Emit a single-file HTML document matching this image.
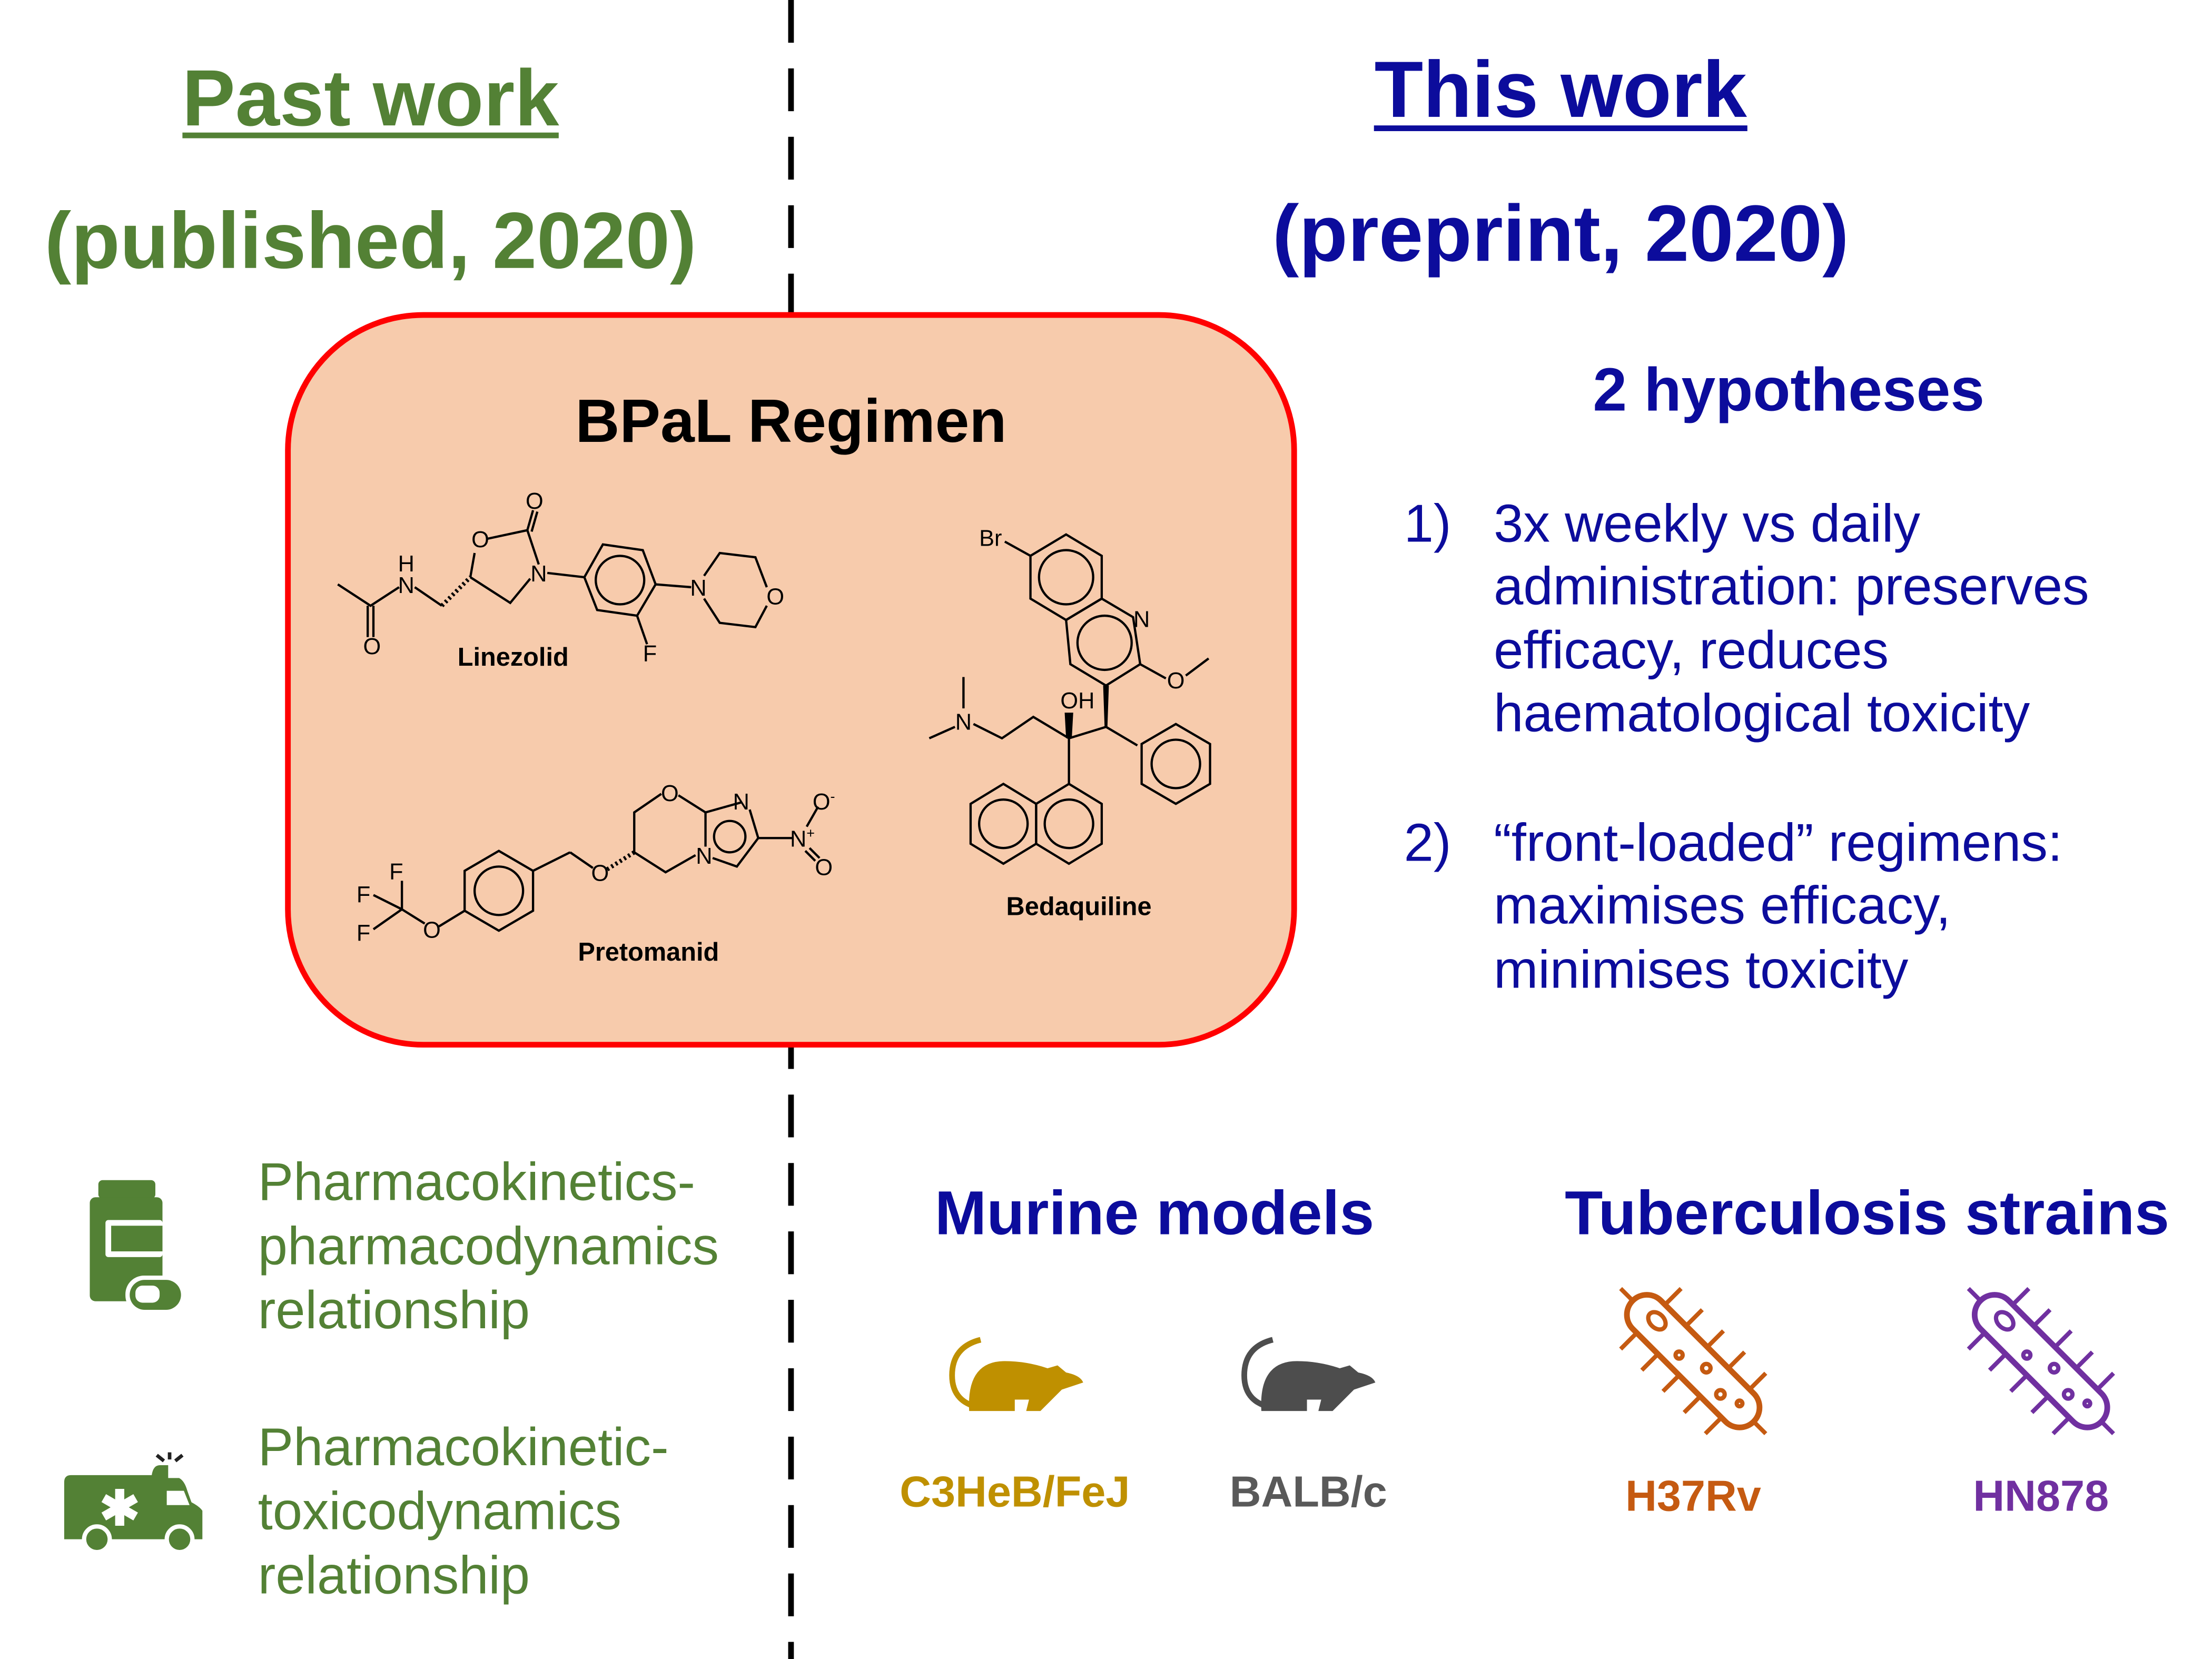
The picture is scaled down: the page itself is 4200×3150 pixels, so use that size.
<!DOCTYPE html>
<html><head><meta charset="utf-8"><style>
html,body{margin:0;padding:0;background:#fff;}
svg{display:block;}
text{font-family:"Liberation Sans",Arial,sans-serif;}
</style></head><body>
<svg width="4200" height="3150" viewBox="0 0 1552 1164" preserveAspectRatio="none" xmlns="http://www.w3.org/2000/svg">
<rect width="1552" height="1164" fill="#fff"/>
<line x1="555" y1="0" x2="555" y2="1164" stroke="#000" stroke-width="4" stroke-dasharray="30,18"/>

<g fill="#538135" font-weight="bold" font-size="56" text-anchor="middle">
<text x="260" y="88">Past work</text>
<text x="260" y="188">(published, 2020)</text>
</g>
<rect x="128" y="93" width="264" height="4" fill="#538135"/>
<g fill="#0c0c9c" font-weight="bold" font-size="56" text-anchor="middle">
<text x="1095" y="82">This work</text>
<text x="1095" y="183">(preprint, 2020)</text>
</g>
<rect x="964" y="88" width="262" height="4" fill="#0c0c9c"/>

<rect x="202" y="221" width="706" height="512" rx="95" ry="95" fill="#f7cbac" stroke="#ff0000" stroke-width="4"/>
<text x="555" y="310" font-size="43" font-weight="bold" text-anchor="middle" fill="#000">BPaL Regimen</text>

<g stroke="#000" stroke-width="1.6" fill="none">
<polyline points="237,410 260,425 280,412"/>
<line x1="258" y1="425" x2="258" y2="447"/><line x1="262" y1="425" x2="262" y2="447"/>
<polyline points="291,412 310,425"/>
<line x1="310" y1="425" x2="330" y2="405" stroke-dasharray="1.5,2" stroke-width="3"/>
<polyline points="330,405 333,388"/>
<polyline points="342,378 370,372 378,396"/>
<line x1="370" y1="372" x2="374" y2="358"/><line x1="373" y1="373" x2="377" y2="359"/>
<polyline points="372,406 358,423 330,405"/>
<line x1="384" y1="402" x2="410" y2="405"/>
<polygon points="410,405 423,382 451,386 460,410 447,432 419,428"/>
<circle cx="435" cy="407" r="17"/>
<line x1="447" y1="432" x2="454" y2="452"/>
<line x1="460" y1="410" x2="485" y2="412"/>
<polyline points="494,404 505,388 530,391 538,412"/>
<polyline points="538,425 530,440 505,437 494,420"/>
<polygon points="350,597 374,611 374,639 350,653 326,639 326,611"/>
<circle cx="350" cy="625" r="17"/>
<line x1="374" y1="611" x2="400" y2="598"/>
<line x1="400" y1="598" x2="416" y2="609"/>
<line x1="426" y1="610" x2="445" y2="598" stroke-dasharray="1.5,2" stroke-width="3"/>
<line x1="326" y1="639" x2="308" y2="650"/>
<line x1="298" y1="648" x2="282" y2="638"/>
<line x1="282" y1="638" x2="282" y2="618"/>
<line x1="282" y1="638" x2="262" y2="628"/>
<line x1="282" y1="638" x2="262" y2="652"/>
<polyline points="445,598 445,570 464,557"/>
<polyline points="476,558 495,570 520,563"/>
<polyline points="445,598 467,612 488,600"/>
<line x1="495" y1="570" x2="495" y2="594"/>
<polyline points="526,568 532,588 517,608 500,602"/>
<circle cx="512" cy="587" r="11"/>
<line x1="532" y1="588" x2="556" y2="588"/>
<line x1="566" y1="580" x2="574" y2="566"/>
<line x1="565" y1="597" x2="572" y2="604"/><line x1="568" y1="595" x2="575" y2="602"/>
<polygon points="748,375 773,390 773,420 748,435 723,420 723,390"/>
<circle cx="748" cy="405" r="19"/>
<polygon points="773,420 795,433 800,466 776,481 751,466 748,435"/>
<circle cx="775" cy="451" r="19"/>
<line x1="723" y1="390" x2="705" y2="380"/>
<line x1="800" y1="466" x2="818" y2="476"/>
<line x1="832" y1="474" x2="848" y2="462"/>
<line x1="776" y1="510" x2="750" y2="518"/>
<polyline points="750,518 725,503 703,518 683,508"/>
<line x1="676" y1="497" x2="676" y2="475"/>
<line x1="670" y1="510" x2="652" y2="518"/>
<line x1="776" y1="510" x2="798" y2="523"/>
<polygon points="825,508 849,522 849,550 825,564 801,550 801,522"/>
<circle cx="825" cy="536" r="17"/>
<line x1="750" y1="518" x2="750" y2="550"/>
<polygon points="750,550 773,564 773,592 750,606 727,592 727,564"/>
<polygon points="727,564 727,592 704,606 681,592 681,564 704,550"/>
<circle cx="750" cy="578" r="17"/>
<circle cx="704" cy="578" r="17"/>
</g>
<polygon points="774,481 778,481 777,510 775,510" fill="#000"/>
<polygon points="748,518 752,518 753,500 747,500" fill="#000"/>
<g font-size="16" fill="#000" text-anchor="middle">
<text x="261" y="459">O</text><text x="285" y="416">N</text><text x="285" y="401">H</text>
<text x="337" y="384">O</text><text x="375" y="357">O</text><text x="378" y="408">N</text>
<text x="456" y="464">F</text><text x="490" y="418">N</text><text x="544" y="424">O</text>
<text x="421" y="618">O</text><text x="470" y="562">O</text><text x="520" y="568">N</text>
<text x="494" y="606">N</text><text x="563" y="594">N<tspan font-size="10" dy="-6">+</tspan></text>
<text x="578" y="568">O<tspan font-size="10" dy="-6">-</tspan></text><text x="578" y="614">O</text>
<text x="303" y="658">O</text><text x="278" y="617">F</text><text x="255" y="633">F</text><text x="255" y="660">F</text>
<text x="695" y="383">Br</text><text x="801" y="440">N</text><text x="825" y="483">O</text>
<text x="756" y="497">OH</text><text x="676" y="512">N</text>
</g>
<g font-size="18" font-weight="bold" fill="#000" text-anchor="middle">
<text x="360" y="467">Linezolid</text>
<text x="455" y="674">Pretomanid</text>
<text x="757" y="642">Bedaquiline</text>
</g>

<text x="1255" y="288" font-size="43" font-weight="bold" fill="#0c0c9c" text-anchor="middle">2 hypotheses</text>
<g font-size="37.4" fill="#0c0c9c">
<text x="985" y="380">1)</text>
<text x="1048" y="380">3x weekly vs daily</text>
<text x="1048" y="424">administration: preserves</text>
<text x="1048" y="469">efficacy, reduces</text>
<text x="1048" y="513">haematological toxicity</text>
<text x="985" y="604">2)</text>
<text x="1048" y="604">“front-loaded” regimens:</text>
<text x="1048" y="648">maximises efficacy,</text>
<text x="1048" y="693">minimises toxicity</text>
</g>

<g font-size="37.3" fill="#538135">
<text x="181" y="842">Pharmacokinetics-</text>
<text x="181" y="887">pharmacodynamics</text>
<text x="181" y="932">relationship</text>
<text x="181" y="1028">Pharmacokinetic-</text>
<text x="181" y="1073">toxicodynamics</text>
<text x="181" y="1118">relationship</text>
</g>
<g fill="#538135">
<rect x="69" y="828" width="40" height="13" rx="3"/>
<rect x="63" y="840" width="51" height="73" rx="4"/>
<rect x="88" y="895" width="42" height="27" rx="13" fill="#fff"/>
<rect x="91" y="898" width="36" height="21" rx="10.5"/>
</g>
<rect x="74" y="856" width="40" height="26" rx="2" fill="#fff"/>
<rect x="78" y="860" width="36" height="18" fill="#538135"/>
<rect x="95" y="902" width="17" height="12" rx="5" fill="#fff"/>
<!-- ambulance -->
<g fill="#538135">
<path d="M49,1040 Q49,1035 54,1035 L113,1035 Q114,1028 119,1028 L125,1028 L125,1037 L133,1037 Q137,1039 139,1046 L142,1054 Q148,1057 150,1060 L150,1080 L49,1080 Z" transform="translate(-2,0) scale(0.96,1)"/>
<circle cx="68" cy="1080" r="9" stroke="#fff" stroke-width="3"/>
<circle cx="126" cy="1080" r="9" stroke="#fff" stroke-width="3"/>
</g>
<path d="M117,1046 L129,1046 L133,1056 L117,1056 Z" fill="#fff"/>
<text x="84" y="1070" font-size="34" font-weight="bold" fill="#fff" text-anchor="middle">✱</text>
<g stroke="#222" stroke-width="2.5"><line x1="110" y1="1021" x2="115" y2="1025"/><line x1="119" y1="1019" x2="119" y2="1024"/><line x1="128" y1="1021" x2="123" y2="1025"/></g>

<g font-size="43.7" font-weight="bold" fill="#0c0c9c" text-anchor="middle">
<text x="810" y="866">Murine models</text>
<text x="1310" y="866">Tuberculosis strains</text>
</g>
<path d="M688,940 Q668,945 668,965 Q668,985 690,988" fill="none" stroke="#bf9000" stroke-width="4"/>
<path d="M680,990 Q678,955 705,955 Q720,955 735,960 L742,958 L748,963 Q758,965 760,970 L745,975 L730,990 L720,990 L722,982 L712,982 L712,990 Z" fill="#bf9000"/>
<path d="M893,940 Q873,945 873,965 Q873,985 895,988" fill="none" stroke="#4d4d4d" stroke-width="4"/>
<path d="M885,990 Q883,955 910,955 Q925,955 940,960 L947,958 L953,963 Q963,965 965,970 L950,975 L935,990 L925,990 L927,982 L917,982 L917,990 Z" fill="#4d4d4d"/>
<g font-size="30.6" font-weight="bold" text-anchor="middle">
<text x="712" y="1057" fill="#bf9000">C3HeB/FeJ</text>
<text x="918" y="1057" fill="#595959">BALB/c</text>
<text x="1188" y="1060" fill="#c55a11">H37Rv</text>
<text x="1432" y="1060" fill="#7030a0">HN878</text>
</g>
<g transform="translate(1188,955) rotate(45)" stroke="#c55a11" fill="none" stroke-width="4">
<rect x="-60" y="-14" width="120" height="28" rx="14"/>
<g stroke-width="3">
<line x1="-42" y1="-14" x2="-42" y2="-30"/><line x1="-21" y1="-14" x2="-21" y2="-30"/><line x1="0" y1="-14" x2="0" y2="-30"/><line x1="21" y1="-14" x2="21" y2="-30"/><line x1="42" y1="-14" x2="42" y2="-30"/>
<line x1="-42" y1="14" x2="-42" y2="30"/><line x1="-21" y1="14" x2="-21" y2="30"/><line x1="0" y1="14" x2="0" y2="30"/><line x1="21" y1="14" x2="21" y2="30"/><line x1="42" y1="14" x2="42" y2="30"/>
<line x1="-60" y1="0" x2="-72" y2="0"/><line x1="60" y1="0" x2="72" y2="0"/>
<ellipse cx="-38" cy="-2" rx="7" ry="5"/><circle cx="-10" cy="4" r="2.5"/><circle cx="10" cy="-3" r="3"/><circle cx="30" cy="3" r="3"/><circle cx="44" cy="-2" r="2"/>
</g></g>
<g transform="translate(1432,955) rotate(45)" stroke="#7030a0" fill="none" stroke-width="4">
<rect x="-60" y="-14" width="120" height="28" rx="14"/>
<g stroke-width="3">
<line x1="-42" y1="-14" x2="-42" y2="-30"/><line x1="-21" y1="-14" x2="-21" y2="-30"/><line x1="0" y1="-14" x2="0" y2="-30"/><line x1="21" y1="-14" x2="21" y2="-30"/><line x1="42" y1="-14" x2="42" y2="-30"/>
<line x1="-42" y1="14" x2="-42" y2="30"/><line x1="-21" y1="14" x2="-21" y2="30"/><line x1="0" y1="14" x2="0" y2="30"/><line x1="21" y1="14" x2="21" y2="30"/><line x1="42" y1="14" x2="42" y2="30"/>
<line x1="-60" y1="0" x2="-72" y2="0"/><line x1="60" y1="0" x2="72" y2="0"/>
<ellipse cx="-38" cy="-2" rx="7" ry="5"/><circle cx="-10" cy="4" r="2.5"/><circle cx="10" cy="-3" r="3"/><circle cx="30" cy="3" r="3"/><circle cx="44" cy="-2" r="2"/>
</g></g>
</svg>
</body></html>
